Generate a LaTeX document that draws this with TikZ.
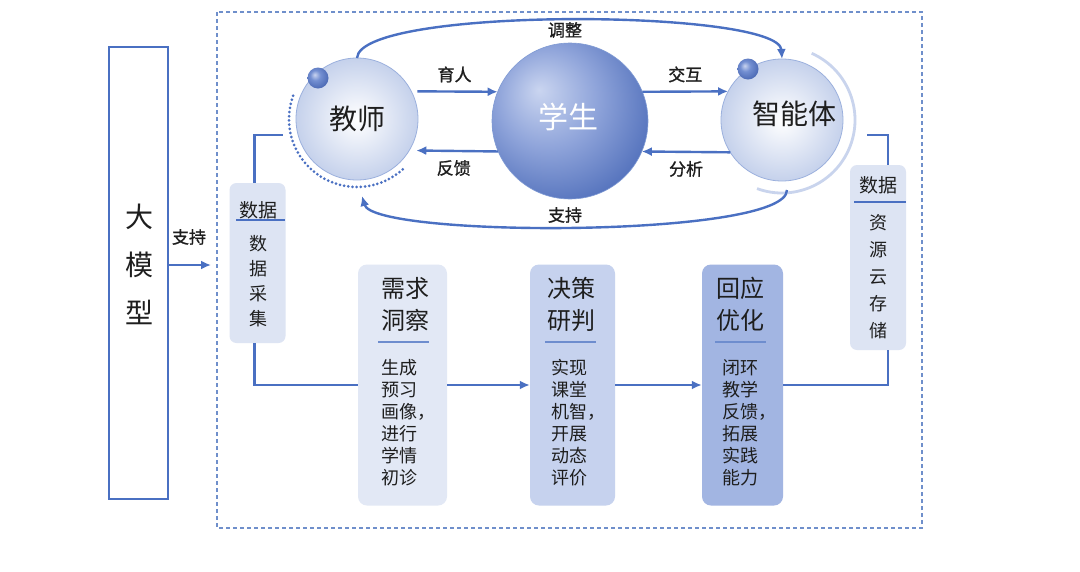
\documentclass[tikz,border=0pt]{standalone}
\usepackage{fontspec}
\setmainfont{Noto Sans CJK SC}
\newfontfamily\lblfont{Noto Sans CJK SC}[FakeBold=1.2]
\usetikzlibrary{arrows.meta,calc,shadings}
\definecolor{lb}{HTML}{4A70C2}
\definecolor{framec}{HTML}{6F8FCB}
\definecolor{boxA}{HTML}{E2E8F5}
\definecolor{boxB}{HTML}{C6D2EE}
\definecolor{boxC}{HTML}{A2B5E2}
\definecolor{boxD}{HTML}{DDE4F3}
\definecolor{txt}{HTML}{1E1E1E}
\definecolor{sA}{HTML}{CAD5F0}
\definecolor{sB}{HTML}{8FA4DA}
\definecolor{sC}{HTML}{5573BD}
\definecolor{sD}{HTML}{3D5CA8}
\definecolor{kA}{HTML}{C9D4F0}
\definecolor{kB}{HTML}{7490D2}
\definecolor{kC}{HTML}{4B69B4}
\pgfdeclareradialshading{studshade}{\pgfpoint{-10bp}{10bp}}{color(0bp)=(sA); color(16bp)=(sB); color(32bp)=(sC); color(42bp)=(sD); color(60bp)=(sD)}
\pgfdeclareradialshading{knobshade}{\pgfpoint{-8bp}{8bp}}{color(0bp)=(kA); color(12bp)=(kB); color(30bp)=(kC); color(60bp)=(kC)}
\tikzset{
  conn/.style={draw=lb, line width=2.4pt},
  arr/.style={conn, -{Latex[length=10pt,width=9pt]}},
  lbl/.style={text=txt, font=\lblfont\fontsize{17}{17}\selectfont, inner sep=1pt},
  bigcirc/.style={circle, inner sep=0pt, outer sep=0pt, minimum size=122pt, draw=lb!55, line width=0.8pt, inner color=white, outer color=lb!32, text=txt, font=\fontsize{28}{28}\selectfont},
  knob/.style={circle, inner sep=0pt, minimum size=21pt, shading=knobshade},
  databox/.style={rounded corners=7pt, fill=boxD, inner sep=0pt, minimum width=56pt},
  stagebox/.style={rounded corners=9pt, inner sep=0pt, minimum height=241pt},
  title/.style={text=txt, font=\fontsize{24}{32}\selectfont, align=center},
  body/.style={text=txt, font=\fontsize{18}{22}\selectfont, align=left},
  dhead/.style={text=txt, font=\fontsize{19}{19}\selectfont},
  dbody/.style={text=txt, font=\fontsize{18}{25}\selectfont, align=center},
  sep/.style={draw=lb, line width=1.4pt}
}
\begin{document}
\begin{tikzpicture}[x=1pt,y=1pt]
\useasboundingbox (0,0) rectangle (1080,-571);
\fill[white] (0,0) rectangle (1080,-571);

% big model box
\node[draw=lb, line width=1.4pt, minimum width=59pt, minimum height=452pt, inner sep=0pt] (llm) at (138.5,-273) {};
\node[text=txt, font=\fontsize{28}{48}\selectfont, align=center] (llmtxt) at (139,-264) {大\\模\\型};
\node[lbl] (suplbl) at (189,-237) {支持};
\coordinate (supend) at (211,-265);
\draw[arr] (llm.east |- supend) -- (supend);

% dashed frame
\draw[framec, line width=1.1pt, dash pattern=on 4pt off 3pt] (217,-12) rectangle (922,-528);

% circles
\node[bigcirc] (teacher) at (357,-119) {教师};
\node[circle, inner sep=0pt, outer sep=0pt, minimum size=156pt, shading=studshade, draw=lb!70, line width=0.6pt] (student) at (570,-121) {};
\node[text=white, font=\fontsize{30}{30}\selectfont] (studtxt) at (568,-117) {学生};
\node[bigcirc] (agent) at (782,-120) {};
\node[text=txt, font=\fontsize{28}{28}\selectfont] (agenttxt) at (794,-114) {智能体};
\node[knob] (knobT) at (318,-78) {};
\node[knob] (knobA) at (748,-69) {};

% decorative arcs
\draw[lb, line width=3pt, dash pattern=on 0pt off 4.2pt, line cap=round] ($(teacher.center)+(160:68)$) arc[start angle=160, end angle=315, radius=68];
\draw[lb!30, line width=2.8pt] ($(agent.center)+(66:73)$) arc[start angle=66, end angle=-110, radius=73];

% straight arrows
\draw[arr, shorten <=6pt] (teacher.27) -- (student.158) node[lbl, midway, above=7pt] (l1) {育人};
\draw[arr] (student.22) -- (agent.152) node[lbl, midway, above=7pt] (l2) {交互};
\draw[arr, shorten >=7pt] (student.203) -- (teacher.329) node[lbl, midway, below=7pt] (l3) {反馈};
\draw[arr] (agent.212) -- (student.337) node[lbl, midway, below=7pt] (l4) {分析};

% curved arrows
\draw[arr] (teacher.north) .. controls +(3,52) and +(-3,50) .. (agent.north);
\node[lbl] (l5) at (565,-30) {调整};
\draw[arr] ([shift={(5,-9)}]agent.south) .. controls +(0,-48) and +(12,-42) .. ([shift={(5,-16)}]teacher.south);
\node[lbl] (l6) at (565,-215) {支持};

% left data box
\node[databox, minimum height=160pt] (dataL) at (257.5,-263) {};
\node[dhead] (dLh) at (258,-210) {数据};
\draw[sep] (236,-220) -- (285,-220);
\node[dbody] (dLb) at (258,-281) {数\\据\\采\\集};

% right data box
\node[databox, minimum height=185pt] (dataR) at (878,-257.5) {};
\node[dhead] (dRh) at (878,-185) {数据};
\draw[sep] (854,-202) -- (906,-202);
\node[dbody, font=\fontsize{18}{27}\selectfont] (dRb) at (878,-277) {资\\源\\云\\存\\储};

% stage boxes
\node[stagebox, fill=boxA, minimum width=89pt] (need) at (402.5,-385) {};
\node[stagebox, fill=boxB, minimum width=85pt] (decide) at (572.5,-385) {};
\node[stagebox, fill=boxC, minimum width=81pt] (respond) at (742.5,-385) {};

\node[title] (t1) at (405,-304) {需求\\洞察};
\draw[sep, lb!80] (378,-342) -- (429,-342);
\node[body] (b1) at (408,-423) {生成\\预习\\画像，\\进行\\学情\\初诊};

\node[title] (t2) at (571,-304) {决策\\研判};
\draw[sep, lb!80] (545,-342) -- (596,-342);
\node[body] (b2) at (578,-423) {实现\\课堂\\机智，\\开展\\动态\\评价};

\node[title] (t3) at (740,-304) {回应\\优化};
\draw[sep, lb!80] (715,-342) -- (766,-342);
\node[body] (b3) at (749,-423) {闭环\\教学\\反馈，\\拓展\\实践\\能力};

% flow connectors
\coordinate (cL) at (283,-135);
\coordinate (cR) at (867,-135);
\draw[conn] ([xshift=-3pt]dataL.north) |- (cL);
\draw[conn] ([xshift=-3pt]dataL.south) |- (need.west);
\draw[arr] (need.east) -- (decide.west);
\draw[arr] (decide.east) -- (respond.west);
\draw[conn] (respond.east) -| ([xshift=10pt]dataR.south);
\draw[conn] ([xshift=10pt]dataR.north) |- (cR);
\end{tikzpicture}
\end{document}
